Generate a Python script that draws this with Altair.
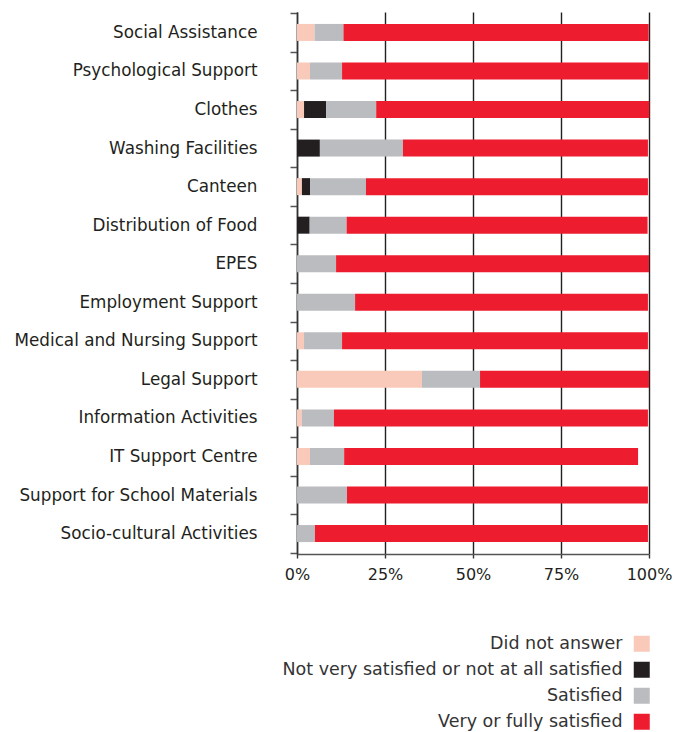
import altair as alt
import pandas as pd

categories = [
    "Social Assistance", "Psychological Support", "Clothes", "Washing Facilities",
    "Canteen", "Distribution of Food", "EPES", "Employment Support",
    "Medical and Nursing Support", "Legal Support", "Information Activities",
    "IT Support Centre", "Support for School Materials", "Socio-cultural Activities",
]
series = ["Did not answer", "Not very satisfied or not at all satisfied",
          "Satisfied", "Very or fully satisfied"]
colors = ["#F9CAB9", "#231F20", "#BBBCBF", "#ED1C2E"]

did_not_answer = [5.0, 3.7, 2.0, 0, 1.4, 0, 0, 0, 2.0, 35.5, 1.4, 3.7, 0, 0]
not_satisfied = [0, 0, 6.3, 6.5, 2.3, 3.6, 0, 0, 0, 0, 0, 0, 0, 0]
satisfied = [8.2, 9.1, 14.2, 23.6, 15.9, 10.5, 11.1, 16.5, 10.8, 16.5, 9.1, 9.7, 14.2, 5.1]
very_satisfied = [86.7, 87.1, 77.6, 69.6, 80.1, 85.5, 88.9, 83.2, 86.9, 48.0, 89.2, 83.5, 85.5, 94.6]
x_ticks = [0, 25, 50, 75, 100]

rows = []
for i, c in enumerate(categories):
    for k, (s, vals) in enumerate(zip(series, [did_not_answer, not_satisfied, satisfied, very_satisfied])):
        rows.append({"category": c, "series": s, "value": vals[i], "order": k})
df = pd.DataFrame(rows)

FONT = "DejaVu Sans"
TXT = "#231F20"
LEG_SYMBOL = "M 2.5 -1 H 4.5 V 1 H 2.5 Z"  # square drawn to the right of its label

chart = alt.Chart(df).mark_bar(size=17).encode(
    y=alt.Y("category:N", sort=categories, title=None,
            scale=alt.Scale(paddingInner=0, paddingOuter=0.03),
            axis=alt.Axis(tickBand="extent", tickSize=7, tickColor="#555555",
                          tickWidth=1.5, domainColor="#333333", domainWidth=1.5,
                          labelPadding=33, labelFontSize=16.8, labelFont=FONT,
                          labelColor=TXT, labelLimit=400)),
    x=alt.X("value:Q", stack="zero", title=None,
            scale=alt.Scale(domain=[0, 100], nice=False),
            axis=alt.Axis(values=x_ticks, labelExpr="datum.value + '%'",
                          grid=True, gridColor="#231F20", gridWidth=1.4,
                          tickSize=4, tickColor="#333333", tickWidth=1.4,
                          domainColor="#555555", domainWidth=1.5, labelFlush=False,
                          labelPadding=8, labelFontSize=16, labelFont=FONT,
                          labelColor=TXT)),
    color=alt.Color("series:N", sort=series,
                    scale=alt.Scale(domain=series, range=colors),
                    legend=alt.Legend(title=None, orient="none", legendX=308, legendY=623,
                                      symbolType=LEG_SYMBOL, symbolSize=256,
                                      symbolStrokeWidth=0, labelAlign="right",
                                      labelOffset=0, symbolOffset=0, labelFontSize=17.5,
                                      labelFont=FONT, labelColor="#333333",
                                      rowPadding=7, labelLimit=500)),
    order=alt.Order("order:Q"),
).properties(
    width=352, height=542,
    padding={"left": 289, "top": 4, "right": 31, "bottom": 182},
    autosize=alt.AutoSizeParams(type="none"),
).configure_view(stroke=None)

chart.save("out.html", embed_options={"renderer": "svg", "actions": False})
